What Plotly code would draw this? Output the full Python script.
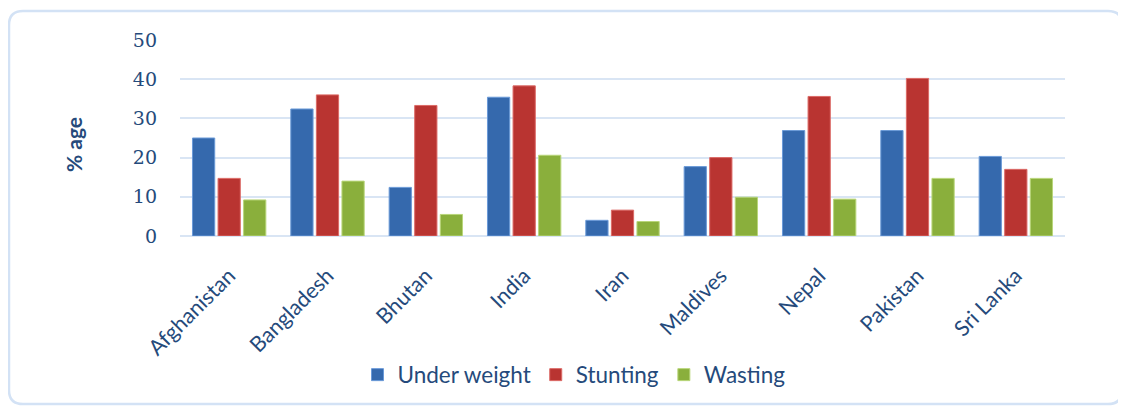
import plotly.graph_objects as go

countries = ["Afghanistan", "Bangladesh", "Bhutan", "India", "Iran",
             "Maldives", "Nepal", "Pakistan", "Sri Lanka"]
under_weight = [25.0, 32.4, 12.4, 35.4, 4.0, 17.7, 26.9, 26.9, 20.3]
stunting = [14.7, 36.0, 33.3, 38.3, 6.6, 20.0, 35.6, 40.2, 17.0]
wasting = [9.2, 14.0, 5.5, 20.6, 3.7, 9.9, 9.4, 14.7, 14.7]
y_ticks = [0, 10, 20, 30, 40, 50]

series = [
    ("Under weight", under_weight, "#3569ad", "#6a9ad8"),
    ("Stunting", stunting, "#b93431", "#dc6a66"),
    ("Wasting", wasting, "#8aaf3c", "#b9d67a"),
]

OFF = 8  # page body margin
W, H = 1118, 399
# plot area in page pixels: x 180..1065, y 40..236
L = 180 - OFF
T = 40 - OFF
R = W - (1065 - OFF)
B = H - (236 - OFF)
pw, ph = W - L - R, H - T - B
txt = "#254a7b"

fig = go.Figure()
for name, vals, col, edge in series:
    fig.add_trace(go.Bar(x=countries, y=vals, name=name,
                         marker=dict(color=col, line=dict(color=edge, width=1))))

def px(x):
    return (x - OFF - L) / pw

def py(y):
    return (H - B - (y - OFF)) / ph

# rounded frame (page pixel coordinates)
x0, x1, y0, y1, r = 9, 1122, 11, 404, 14
rx, ry = r / pw, r / ph
path = (f"M {px(x0)+rx} {py(y0)} L {px(x1)-rx} {py(y0)} "
        f"Q {px(x1)} {py(y0)} {px(x1)} {py(y0)-ry} "
        f"L {px(x1)} {py(y1)+ry} Q {px(x1)} {py(y1)} {px(x1)-rx} {py(y1)} "
        f"L {px(x0)+rx} {py(y1)} Q {px(x0)} {py(y1)} {px(x0)} {py(y1)+ry} "
        f"L {px(x0)} {py(y0)-ry} Q {px(x0)} {py(y0)} {px(x0)+rx} {py(y0)} Z")
fig.add_shape(type="path", path=path, xref="paper", yref="paper",
              line=dict(color="#d3e2f5", width=2.5), layer="below")

fig.add_annotation(text="<b>% age</b>", x=px(73), y=py(145), xref="paper", yref="paper",
                   xanchor="center", yanchor="middle",
                   textangle=-90, showarrow=False,
                   font=dict(family="Lato", size=21, color=txt))

fig.update_layout(
    width=W, height=H,
    margin=dict(l=L, r=R, t=T, b=B, autoexpand=False),
    paper_bgcolor="white", plot_bgcolor="white",
    barmode="group", bargap=0.22, bargroupgap=0.13,
    showlegend=True,
    legend=dict(orientation="h", x=px(574), xanchor="center", y=py(375), yanchor="middle",
                font=dict(family="Lato", size=22.5, color=txt), itemwidth=30,
                traceorder="normal"),
    xaxis=dict(tickangle=-45, tickfont=dict(family="Lato", size=21.5, color=txt),
               showgrid=False, showline=False, ticks="", ticklabelstandoff=22),
    yaxis=dict(range=[0, 50], tickvals=y_ticks, showgrid=True, gridcolor="#d9e5f4",
               gridwidth=1.5, zeroline=True, zerolinecolor="#d9e5f4", zerolinewidth=1.5,
               tickfont=dict(family="DejaVu Serif", size=19, color=txt),
               ticks="", ticklabelstandoff=22, showline=False),
)

fig.write_html("out.html")
